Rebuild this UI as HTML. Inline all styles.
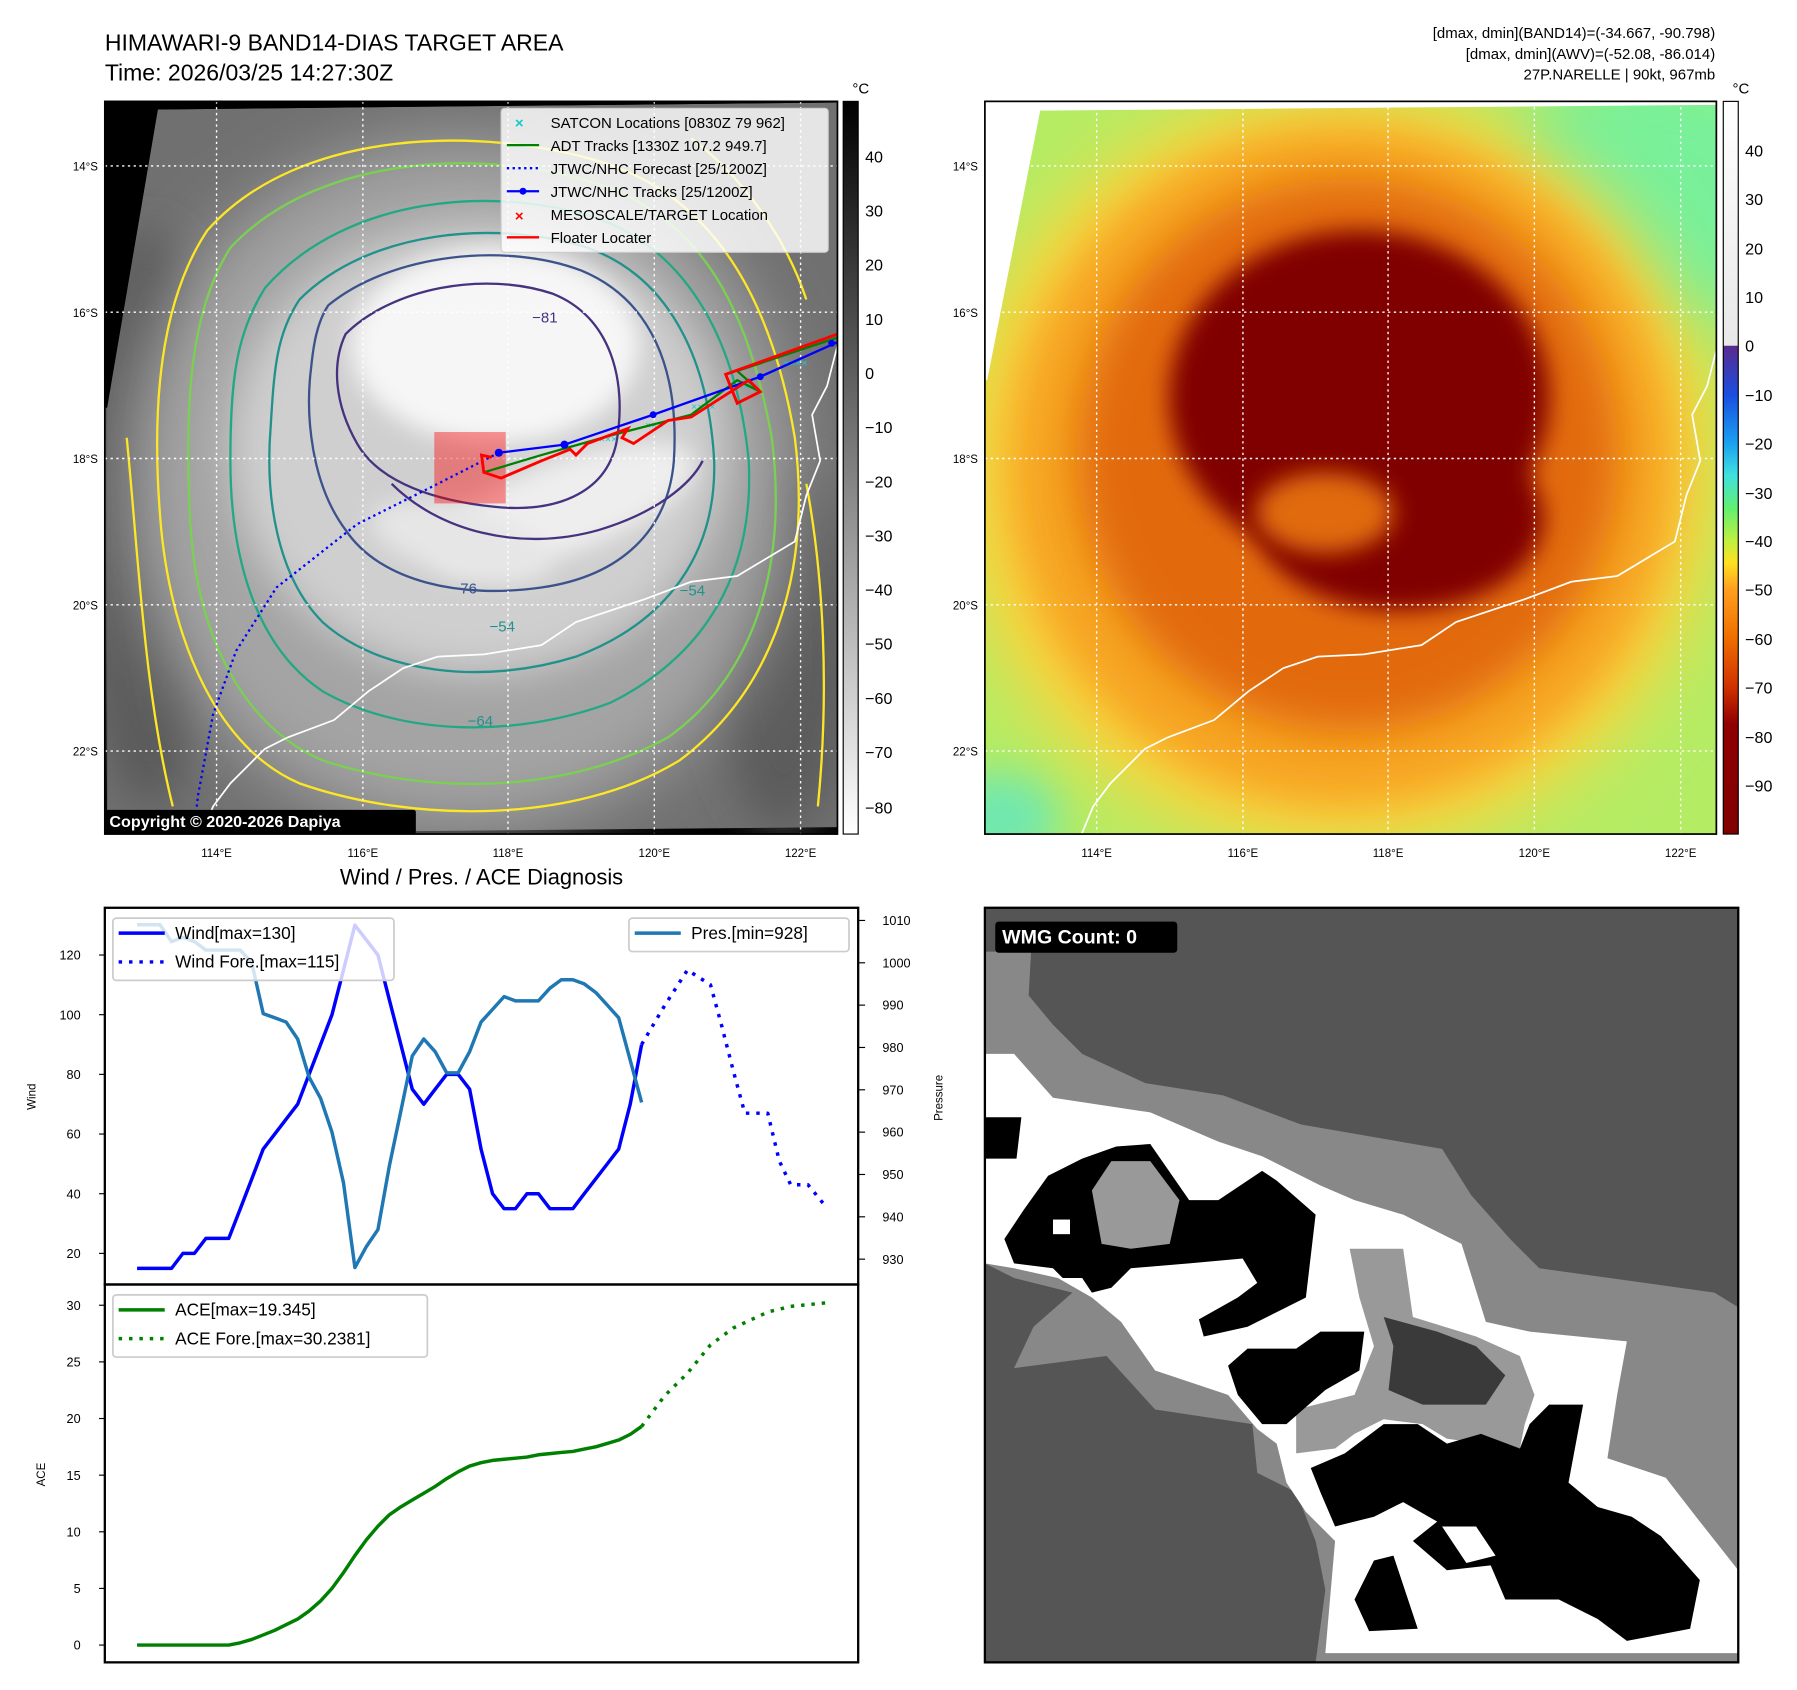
<!DOCTYPE html>
<html><head><meta charset="utf-8"><style>
html,body{margin:0;padding:0;background:#fff}
svg{display:block}
text{font-family:"Liberation Sans","DejaVu Sans",sans-serif}
</style></head><body>
<svg id="root" width="1797" height="1690" viewBox="0 0 1560 1467" preserveAspectRatio="none" xmlns="http://www.w3.org/2000/svg">
<defs>
<filter id="b30" x="-50%" y="-50%" width="200%" height="200%"><feGaussianBlur stdDeviation="30"/></filter>
<filter id="b18" x="-50%" y="-50%" width="200%" height="200%"><feGaussianBlur stdDeviation="18"/></filter>
<filter id="b10" x="-50%" y="-50%" width="200%" height="200%"><feGaussianBlur stdDeviation="10"/></filter>
<clipPath id="c1"><rect x="91" y="88" width="636" height="636"/></clipPath>
<clipPath id="c2"><rect x="855" y="88" width="635" height="636"/></clipPath>
<linearGradient id="cb1" x1="0" y1="0" x2="0" y2="1"><stop offset="0" stop-color="#000"/><stop offset="1" stop-color="#fff"/></linearGradient>
<linearGradient id="cb2" x1="0" y1="88" x2="0" y2="724" gradientUnits="userSpaceOnUse">
<stop offset="0" stop-color="#ffffff"/><stop offset="0.333" stop-color="#e8e8e8"/>
<stop offset="0.334" stop-color="#5a2a8f"/><stop offset="0.4" stop-color="#1a4ee0"/>
<stop offset="0.466" stop-color="#1aa0f0"/><stop offset="0.51" stop-color="#40e0e0"/>
<stop offset="0.555" stop-color="#60f070"/><stop offset="0.6" stop-color="#c0f040"/>
<stop offset="0.63" stop-color="#ffe020"/><stop offset="0.665" stop-color="#ffa020"/>
<stop offset="0.73" stop-color="#f07000"/><stop offset="0.8" stop-color="#d03000"/>
<stop offset="0.85" stop-color="#900000"/><stop offset="1" stop-color="#800000"/>
</linearGradient>
</defs>

<text x="91" y="44" font-size="20">HIMAWARI-9 BAND14-DIAS TARGET AREA</text>
<text x="91" y="70" font-size="20">Time: 2026/03/25 14:27:30Z</text>
<g font-size="13" text-anchor="end">
<text x="1489" y="33">[dmax, dmin](BAND14)=(-34.667, -90.798)</text>
<text x="1489" y="51">[dmax, dmin](AWV)=(-52.08, -86.014)</text>
<text x="1489" y="69">27P.NARELLE | 90kt, 967mb</text>
</g>

<g clip-path="url(#c1)">
<rect x="91" y="88" width="636" height="636" fill="#000"/>
<polygon points="137,95 727,89 727,718 93,724 93,354" fill="#707070"/>
<g clip-path="url(#c1)">
<ellipse cx="130" cy="450" rx="60" ry="250" fill="#5a5a5a" filter="url(#b18)"/>
<ellipse cx="680" cy="560" rx="60" ry="160" fill="#5c5c5c" filter="url(#b18)"/>
<ellipse cx="400" cy="420" rx="290" ry="300" fill="#a4a4a4" filter="url(#b30)"/>
<ellipse cx="415" cy="390" rx="215" ry="195" fill="#cfcfcf" filter="url(#b18)"/>
<ellipse cx="430" cy="300" rx="125" ry="85" fill="#f6f6f6" filter="url(#b10)"/>
<ellipse cx="490" cy="440" rx="120" ry="40" transform="rotate(-20 490 440)" fill="#eeeeee" filter="url(#b10)"/>
<ellipse cx="400" cy="470" rx="80" ry="30" transform="rotate(15 400 470)" fill="#e6e6e6" filter="url(#b10)"/>
</g>
<polygon points="91,88 137,95 93,354 91,354" fill="#000"/>
<polygon points="91,88 727,88 727,89 137,95" fill="#000"/>
<g fill="none" stroke-width="2" stroke-linejoin="round">
<path stroke="#fde725" d="M180,200 C260,110 420,110 520,140 C620,170 670,260 690,380 C705,500 670,600 590,660 C500,715 360,715 260,680 C190,650 150,560 140,460 C130,350 140,260 180,200Z"/>
<path stroke="#fde725" d="M110,380 C120,480 125,600 150,700 M700,420 C715,500 720,600 710,700 M600,120 C640,150 680,200 700,260"/>
<path stroke="#7ad151" d="M200,215 C280,130 430,130 520,160 C610,190 650,270 670,380 C685,500 650,590 580,640 C490,690 370,690 280,660 C210,630 170,550 165,450 C160,350 165,270 200,215Z"/>
<path stroke="#22a884" d="M230,250 C300,170 430,160 520,190 C600,220 640,300 650,400 C655,500 610,570 530,610 C450,640 350,640 280,600 C220,560 200,480 200,400 C200,330 205,290 230,250Z"/>
<path stroke="#21918c" d="M260,260 C320,200 430,190 510,215 C580,240 615,310 620,400 C622,480 580,540 500,570 C420,595 330,585 280,540 C240,500 230,430 235,370 C238,320 240,290 260,260Z"/>
<path stroke="#3b528b" d="M285,265 C340,220 440,210 505,235 C565,260 590,320 585,400 C580,460 540,500 470,510 C400,520 330,505 300,460 C270,420 265,360 270,320 C272,300 275,280 285,265Z"/>
<path stroke="#46327e" d="M300,290 C340,250 420,235 480,255 C530,275 545,330 535,385 C525,430 480,445 430,440 C380,435 330,420 310,385 C290,350 288,315 300,290Z"/>
<path stroke="#46327e" d="M340,420 C380,460 450,480 520,460 C570,445 600,420 610,400"/>
</g>
<g font-size="13">
<text x="462" y="280" fill="#46327e">−81</text>
<text x="392" y="515" fill="#3b528b">−76</text>
<text x="425" y="548" fill="#21918c">−54</text>
<text x="406" y="630" fill="#21918c">−64</text>
<text x="590" y="517" fill="#21918c">−54</text>
</g>
<path d="M727,300 L718,335 L705,360 L712,400 L700,430 L690,470 L640,500 L600,505 L560,520 L500,540 L470,560 L420,568 L380,570 L350,580 L320,600 L290,625 L250,640 L230,650 L200,680 L185,700 L175,724" fill="none" stroke="#fff" stroke-width="1.5"/>
<g stroke="#fff" stroke-width="1.2" stroke-dasharray="2,3">
<line x1="91" y1="144" x2="727" y2="144"/><line x1="91" y1="271" x2="727" y2="271"/><line x1="91" y1="398" x2="727" y2="398"/><line x1="91" y1="525" x2="727" y2="525"/><line x1="91" y1="652" x2="727" y2="652"/>
<line x1="188" y1="88" x2="188" y2="724"/><line x1="315" y1="88" x2="315" y2="724"/><line x1="441" y1="88" x2="441" y2="724"/><line x1="568" y1="88" x2="568" y2="724"/><line x1="695" y1="88" x2="695" y2="724"/>
</g>
<rect x="377" y="375" width="62" height="62" fill="rgba(255,0,0,0.4)"/>
<path d="M433,393 L380,420 L310,455 L240,510 L205,565 L185,620 L172,690 L168,724" fill="none" stroke="#00f" stroke-width="2" stroke-dasharray="2,3"/>
<g fill="#1cc" font-size="9">
<text x="520" y="384">×××</text><text x="560" y="372">×××</text><text x="600" y="356">××××</text><text x="640" y="338">×××</text><text x="680" y="318">××××</text>
</g>
<path d="M420,410 L470,395 L530,378 L600,360 L640,330 L660,340 L640,322 L727,293" fill="none" stroke="#008000" stroke-width="2"/>
<path d="M433,393 L490,386 L567,360 L660,327 L727,297" fill="none" stroke="#00f" stroke-width="2"/>
<g fill="#00f"><circle cx="433" cy="393" r="3.5"/><circle cx="490" cy="386" r="3.5"/><circle cx="567" cy="360" r="3"/><circle cx="660" cy="327" r="3"/><circle cx="722" cy="298" r="3"/></g>
<path d="M427,397 L418,395 L420,410 L435,415 L470,400 L495,390 L500,395 L510,385 L545,372 L540,380 L550,385 L580,365 L600,362 L650,330 L660,340 L640,350 L630,325 L727,290" fill="none" stroke="#f00" stroke-width="2.5"/>
<g>
<rect x="91" y="703" width="270" height="21" rx="2" fill="#000"/>
<text x="95" y="718" fill="#fff" font-size="14" font-weight="bold">Copyright © 2020-2026 Dapiya</text>
</g>
<g font-size="13">
<rect x="435" y="94" width="284" height="125" rx="3" fill="rgba(255,255,255,0.82)" stroke="#ccc"/>
<text x="447" y="111" fill="#1cc" font-weight="bold">×</text><text x="478" y="111">SATCON Locations [0830Z 79 962]</text>
<line x1="440" y1="126" x2="468" y2="126" stroke="#008000" stroke-width="2"/><text x="478" y="131">ADT Tracks [1330Z 107.2 949.7]</text>
<line x1="440" y1="146" x2="468" y2="146" stroke="#00f" stroke-width="2" stroke-dasharray="2,3"/><text x="478" y="151">JTWC/NHC Forecast [25/1200Z]</text>
<line x1="440" y1="166" x2="468" y2="166" stroke="#00f" stroke-width="2"/><circle cx="454" cy="166" r="3" fill="#00f"/><text x="478" y="171">JTWC/NHC Tracks [25/1200Z]</text>
<text x="447" y="192" fill="#f00" font-weight="bold">×</text><text x="478" y="191">MESOSCALE/TARGET Location</text>
<line x1="440" y1="206" x2="468" y2="206" stroke="#f00" stroke-width="2"/><text x="478" y="211">Floater Locater</text>
</g>
</g>
<rect x="91" y="88" width="636" height="636" fill="none" stroke="#000" stroke-width="1.5"/>

<g font-size="14">
<rect x="732" y="88" width="13" height="636" fill="url(#cb1)" stroke="#000" stroke-width="1"/>
<text x="740" y="81" font-size="13">°C</text>
<text x="751" y="141">40</text><text x="751" y="188">30</text><text x="751" y="235">20</text><text x="751" y="282">10</text><text x="751" y="329">0</text>
<text x="751" y="376">−10</text><text x="751" y="423">−20</text><text x="751" y="470">−30</text><text x="751" y="517">−40</text><text x="751" y="564">−50</text><text x="751" y="611">−60</text><text x="751" y="658">−70</text><text x="751" y="706">−80</text>
</g>

<g font-size="10" text-anchor="end">
<text x="85" y="148">14°S</text><text x="85" y="275">16°S</text><text x="85" y="402">18°S</text><text x="85" y="529">20°S</text><text x="85" y="656">22°S</text>
</g>
<g font-size="10" text-anchor="middle">
<text x="188" y="744">114°E</text><text x="315" y="744">116°E</text><text x="441" y="744">118°E</text><text x="568" y="744">120°E</text><text x="695" y="744">122°E</text>
</g>

<g clip-path="url(#c2)">
<rect x="855" y="88" width="635" height="636" fill="#b4ec64"/>
<ellipse cx="1440" cy="170" rx="140" ry="120" fill="#78f09a" filter="url(#b30)"/>
<ellipse cx="870" cy="710" rx="50" ry="40" fill="#70e8b0" filter="url(#b18)"/>
<ellipse cx="1160" cy="410" rx="330" ry="330" fill="#fcd43c" filter="url(#b30)"/>
<ellipse cx="1165" cy="405" rx="290" ry="295" fill="#f6a422" filter="url(#b18)"/>
<ellipse cx="1170" cy="395" rx="235" ry="240" fill="#e26a10" filter="url(#b18)"/>
<ellipse cx="1180" cy="345" rx="165" ry="145" fill="#800000" filter="url(#b10)"/>
<ellipse cx="1215" cy="450" rx="125" ry="80" fill="#800000" filter="url(#b10)"/>
<ellipse cx="1150" cy="445" rx="60" ry="35" fill="#e06a10" filter="url(#b10)"/>
<polygon points="855,88 1490,88 1490,91 903,96 857,330 855,330" fill="#fff"/>
<path d="M1491,300 L1482,335 L1469,360 L1476,400 L1464,430 L1454,470 L1404,500 L1364,505 L1324,520 L1264,540 L1234,560 L1184,568 L1144,570 L1114,580 L1084,600 L1054,625 L1014,640 L994,650 L964,680 L949,700 L939,724" fill="none" stroke="#fff" stroke-width="1.5"/>
<g stroke="#fff" stroke-width="1.2" stroke-dasharray="2,3">
<line x1="855" y1="144" x2="1490" y2="144"/><line x1="855" y1="271" x2="1490" y2="271"/><line x1="855" y1="398" x2="1490" y2="398"/><line x1="855" y1="525" x2="1490" y2="525"/><line x1="855" y1="652" x2="1490" y2="652"/>
<line x1="952" y1="88" x2="952" y2="724"/><line x1="1079" y1="88" x2="1079" y2="724"/><line x1="1205" y1="88" x2="1205" y2="724"/><line x1="1332" y1="88" x2="1332" y2="724"/><line x1="1459" y1="88" x2="1459" y2="724"/>
</g>
</g>
<rect x="855" y="88" width="635" height="636" fill="none" stroke="#000" stroke-width="1.5"/>
<g font-size="14">
<rect x="1496" y="88" width="13" height="636" fill="url(#cb2)" stroke="#000" stroke-width="1"/>
<text x="1504" y="81" font-size="13">°C</text>
<text x="1515" y="136">40</text><text x="1515" y="178">30</text><text x="1515" y="221">20</text><text x="1515" y="263">10</text><text x="1515" y="305">0</text>
<text x="1515" y="348">−10</text><text x="1515" y="390">−20</text><text x="1515" y="433">−30</text><text x="1515" y="475">−40</text><text x="1515" y="517">−50</text><text x="1515" y="560">−60</text><text x="1515" y="602">−70</text><text x="1515" y="645">−80</text><text x="1515" y="687">−90</text>
</g>
<g font-size="10" text-anchor="end">
<text x="849" y="148">14°S</text><text x="849" y="275">16°S</text><text x="849" y="402">18°S</text><text x="849" y="529">20°S</text><text x="849" y="656">22°S</text>
</g>
<g font-size="10" text-anchor="middle">
<text x="952" y="744">114°E</text><text x="1079" y="744">116°E</text><text x="1205" y="744">118°E</text><text x="1332" y="744">120°E</text><text x="1459" y="744">122°E</text>
</g>

<g>
<svg x="855" y="788" width="654" height="655" viewBox="0 0 1549 1549" preserveAspectRatio="none">
<rect width="1549" height="1549" fill="#555"/>
<polygon fill="#888" points="0,90 95,90 90,180 140,240 200,300 330,360 490,385 650,445 940,495 1000,590 1080,680 1140,740 1500,790 1549,820 1549,1549 680,1549 700,1400 680,1300 640,1200 560,1160 550,1060 350,1030 250,920 60,945 100,860 180,790 60,760 0,730"/>
<polygon fill="#fff" points="0,300 60,300 140,390 340,420 480,480 570,510 690,570 760,600 860,630 980,690 1030,850 1120,870 1320,890 1300,1000 1280,1130 1400,1170 1470,1260 1549,1360 1549,1530 700,1530 720,1300 660,1240 620,1180 600,1100 560,1070 500,1000 350,950 280,850 220,800 150,760 60,740 0,730"/>
<polygon fill="#999" points="750,700 860,700 880,840 1010,880 1100,920 1130,1000 1110,1060 1100,1110 950,1090 900,1060 820,1050 760,1080 720,1110 640,1120 640,1030 760,1000 800,900 770,800"/>
<polygon fill="#3a3a3a" points="820,840 930,870 1010,900 1070,960 1030,1020 900,1020 830,990 840,900"/>
<polygon fill="#000" points="0,430 75,430 65,515 0,515"/>
<polygon fill="#000" points="130,550 200,515 270,490 340,485 420,600 480,600 570,540 600,560 680,630 660,800 540,860 450,880 440,845 520,800 560,770 530,720 420,730 300,740 260,780 220,790 200,760 160,760 140,740 60,730 40,680 80,620"/>
<polygon fill="#999" points="220,580 260,520 340,520 400,600 380,690 300,700 240,690"/>
<polygon fill="#000" points="500,940 540,905 640,905 690,870 780,870 770,950 700,990 620,1060 570,1060 520,1000"/>
<polygon fill="#000" points="670,1150 740,1120 820,1060 890,1060 950,1100 1020,1080 1100,1110 1120,1060 1160,1020 1230,1020 1200,1180 1260,1230 1330,1250 1390,1290 1470,1380 1450,1480 1320,1505 1260,1460 1180,1420 1070,1420 1040,1350 950,1360 880,1300 930,1260 860,1220 800,1250 720,1270 690,1200"/>
<polygon fill="#000" points="800,1340 840,1330 860,1390 890,1480 790,1485 760,1420"/>
<polygon fill="#fff" points="940,1270 1010,1270 1050,1330 990,1345"/>
<rect x="140" y="640" width="35" height="30" fill="#fff"/>
</svg>
<rect x="855" y="788" width="654" height="655" fill="none" stroke="#000" stroke-width="2"/>
<rect x="864" y="800" width="158" height="27" rx="3" fill="#000"/>
<text x="870" y="819" fill="#fff" font-size="17" font-weight="bold">WMG Count: 0</text>
</g>

<text x="418" y="768" font-size="19" text-anchor="middle">Wind / Pres. / ACE Diagnosis</text>
<g id="chart"></g>
</svg>

<script>
const windObs = [15,15,15,15,20,20,25,25,25,35,45,55,60,65,70,80,90,100,115,130,125,120,105,90,75,70,75,80,80,75,55,40,35,35,40,40,35,35,35,40,45,50,55,70,90];
const presObs = [1009,1009,1009,1005,1006,1005,1003,1003,1003,1003,1000,988,987,986,982,973,968,960,948,928,933,937,952,965,978,982,979,974,974,979,986,989,992,991,991,991,994,996,996,995,993,990,987,977,967];
const aceObs = [0,0,0,0,0,0,0,0,0,0.2,0.5,0.9,1.3,1.8,2.3,3.0,3.9,5.0,6.4,7.9,9.3,10.5,11.5,12.2,12.8,13.4,14.0,14.7,15.3,15.8,16.1,16.3,16.4,16.5,16.6,16.8,16.9,17.0,17.1,17.3,17.5,17.8,18.1,18.6,19.3];
const windFcstT = [44,46,48,50,51,52,53,55,56,57,58.5,60];
const windFcst = [90,103,115,110,96,81,67,67,51,43,43,36];
const aceFcstT = [44,46,48,50,52,55,57,60];
const aceFcst = [19.3,22,24,26.5,28,29.4,29.9,30.2];
const windTicks = [20,40,60,80,100,120];
const presTicks = [930,940,950,960,970,980,990,1000,1010];
const aceTicks = [0,5,10,15,20,25,30];

const NS='http://www.w3.org/2000/svg';
const g=document.getElementById('chart');
const xS=t=>119+t*9.955;
const yW=v=>1088-(v-20)*2.59;
const yP=p=>799+(1010-p)*3.675;
const yA=v=>1428-v*9.833;
function mk(tag,attrs,parent){const e=document.createElementNS(NS,tag);for(const k in attrs)e.setAttribute(k,attrs[k]);(parent||g).appendChild(e);return e;}
function line(xs,ys,color,dash,name){
  const pts=xs.map((x,i)=>x.toFixed(1)+','+ys[i].toFixed(1)).join(' ');
  const p=mk('polyline',{points:pts,fill:'none',stroke:color,'stroke-width':3,'stroke-linejoin':'round'});
  if(dash)p.setAttribute('stroke-dasharray','3,6');
  
  
}
const f1=mk('rect',{x:91,y:788,width:654,height:327,fill:'none',stroke:'#000','stroke-width':2});


const f2=mk('rect',{x:91,y:1115,width:654,height:328,fill:'none',stroke:'#000','stroke-width':2});


windTicks.forEach(v=>{const y=yW(v);mk('line',{x1:86,y1:y,x2:91,y2:y,stroke:'#000'});
  const t=mk('text',{x:70,y:y+4,'font-size':11,'text-anchor':'end'});t.textContent=v;
  
  });
presTicks.forEach(v=>{const y=yP(v);mk('line',{x1:745,y1:y,x2:751,y2:y,stroke:'#000'});
  const t=mk('text',{x:766,y:y+4,'font-size':11});t.textContent=v;
  
  });
aceTicks.forEach(v=>{const y=yA(v);mk('line',{x1:86,y1:y,x2:91,y2:y,stroke:'#000'});
  const t=mk('text',{x:70,y:y+4,'font-size':11,'text-anchor':'end'});t.textContent=v;
  
  });
function ylab(txt,x,y,name){const t=mk('text',{x:x,y:y,'font-size':10,'text-anchor':'middle',transform:'rotate(-90 '+x+' '+y+')'});t.textContent=txt;
  
  }
ylab('Wind',31,952,'wind-axis-title');ylab('Pressure',818,953,'pressure-axis-title');ylab('ACE',39,1280,'ace-axis-title');
const tObs=windObs.map((_,i)=>i);
line(tObs.map(xS),windObs.map(yW),'#0000ff',false,'wind-line');
line(windFcstT.map(xS),windFcst.map(yW),'#0000ff',true,'wind-forecast-line');
line(tObs.map(xS),presObs.map(yP),'#1f77b4',false,'pressure-line');
line(tObs.map(xS),aceObs.map(yA),'#008000',false,'ace-line');
line(aceFcstT.map(xS),aceFcst.map(yA),'#008000',true,'ace-forecast-line');
function legend(x,y,w,h,items,name){
  const lg=mk('g',{});
  
  
  mk('rect',{x:x,y:y,width:w,height:h,rx:3,fill:'rgba(255,255,255,0.8)',stroke:'#ccc','stroke-width':1.5},lg);
  items.forEach((it,i)=>{const yy=y+13+i*25;
    const l=mk('line',{x1:x+5,y1:yy,x2:x+45,y2:yy,stroke:it[1],'stroke-width':3},lg);
    if(it[2])l.setAttribute('stroke-dasharray','3,6');
    const t=mk('text',{x:x+54,y:yy+5,'font-size':15},lg);t.textContent=it[0];});
}
legend(98,797,244,54,[['Wind[max=130]','#0000ff',false],['Wind Fore.[max=115]','#0000ff',true]],'wind-legend');
legend(546,797,191,29,[['Pres.[min=928]','#1f77b4',false]],'pressure-legend');
legend(98,1124,273,54,[['ACE[max=19.345]','#008000',false],['ACE Fore.[max=30.2381]','#008000',true]],'ace-legend');
</script>
</body></html>
